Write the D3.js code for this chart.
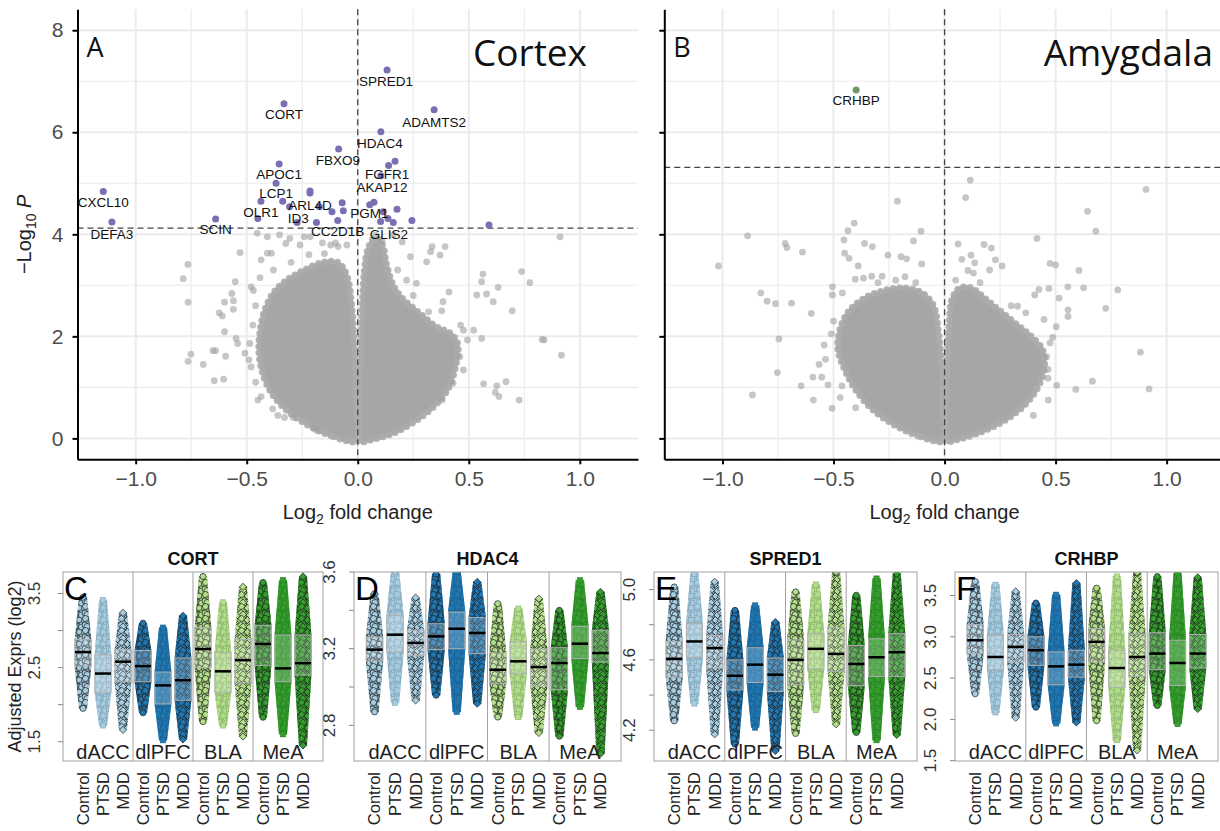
<!DOCTYPE html>
<html>
<head>
<meta charset="utf-8">
<script src="https://cdn.jsdelivr.net/npm/d3@7"></script>
<style>
  body { margin: 0; background: #fff; }
  svg { display: block; }
</style>
</head>
<body>
<div id="fig"></div>
<script>
// ---------- volcano data: [log2 fold change, -log10 P] ----------
// outline of the dense grey cloud (two lobes each side of zero)
const cortexLobeLeft = [[0,-0.05],[-0.12,0.05],[-0.22,0.25],[-0.32,0.55],[-0.39,0.9],[-0.43,1.3],[-0.445,1.7],[-0.44,2.1],[-0.42,2.5],[-0.38,2.85],[-0.32,3.1],[-0.24,3.3],[-0.16,3.45],[-0.09,3.45],[-0.05,3.2],[-0.025,2.5],[-0.012,1.5],[-0.004,0.5]];
const cortexLobeRight = [[0.004,0.3],[0.012,1.5],[0.02,2.6],[0.03,3.3],[0.045,3.7],[0.075,3.92],[0.11,3.8],[0.13,3.4],[0.16,3.0],[0.2,2.75],[0.28,2.45],[0.35,2.2],[0.42,2.05],[0.45,1.85],[0.44,1.4],[0.41,1.0],[0.36,0.7],[0.28,0.4],[0.17,0.12],[0.06,-0.03],[0.005,-0.06]];
const amygLobeLeft = [[0,-0.05],[-0.12,0.05],[-0.22,0.25],[-0.32,0.55],[-0.4,0.95],[-0.45,1.35],[-0.48,1.75],[-0.47,2.15],[-0.43,2.5],[-0.36,2.75],[-0.27,2.9],[-0.18,2.95],[-0.1,2.85],[-0.05,2.6],[-0.025,2.0],[-0.01,1.2],[-0.003,0.4]];
const amygLobeRight = [[0.003,0.4],[0.01,1.3],[0.02,2.2],[0.035,2.75],[0.07,2.95],[0.12,2.95],[0.18,2.75],[0.25,2.5],[0.32,2.25],[0.39,2.0],[0.44,1.75],[0.45,1.4],[0.42,1.0],[0.36,0.65],[0.27,0.35],[0.15,0.1],[0.05,-0.03],[0.005,-0.06]];

// scattered grey genes outside the dense cloud
const cortexGrey = [[-0.765,3.41],[-0.786,3.13],[-0.764,2.67],[-0.751,1.65],[-0.764,1.51],[-0.696,1.45],[-0.646,1.13],[-0.604,1.16],[-0.652,1.72],[-0.64,1.72],[-0.595,1.61],[-0.548,1.96],[-0.541,1.86],[-0.6,2.09],[-0.624,2.46],[-0.61,2.4],[-0.6,2.67],[-0.56,2.7],[-0.56,2.53],[-0.567,2.84],[-0.552,3.07],[-0.53,3.64],[-0.48,2.97],[-0.435,3.5],[-0.407,3.63],[-0.389,3.63],[-0.453,4.02],[-0.407,3.95],[-0.352,3.99],[-0.472,2.22],[-0.486,1.86],[-0.508,1.67],[-0.49,1.54],[-0.48,1.4],[-0.435,0.82],[-0.383,0.58],[-0.33,0.41],[-0.291,0.41],[-0.196,0.2],[-0.186,0.16],[-0.324,3.82],[-0.306,3.92],[-0.26,3.79],[-0.241,3.95],[-0.214,3.95],[-0.159,3.83],[-0.122,3.79],[-0.089,3.76],[-0.049,3.79],[-0.1,3.83],[-0.46,2.6],[-0.47,2.9],[-0.44,3.15],[-0.38,3.3],[-0.3,3.45],[-0.22,3.6],[-0.15,3.62],[-0.46,1.1],[-0.45,0.75],[-0.36,0.45],[0.08,3.98],[0.1,3.9],[0.11,3.86],[0.16,3.99],[0.2,3.85],[0.237,3.56],[0.264,3.04],[0.31,3.46],[0.328,3.66],[0.371,3.59],[0.393,3.76],[0.335,3.76],[0.411,2.87],[0.384,2.68],[0.378,2.5],[0.319,2.48],[0.22,3.1],[0.18,3.3],[0.25,2.8],[0.463,2.22],[0.476,2.12],[0.494,1.93],[0.522,2.12],[0.558,1.96],[0.476,1.34],[0.429,1.08],[0.46,1.6],[0.38,0.75],[0.536,2.81],[0.558,3.07],[0.564,3.22],[0.58,2.83],[0.61,2.68],[0.632,2.96],[0.696,2.5],[0.738,3.27],[0.775,3.05],[0.567,1.07],[0.626,1.03],[0.668,1.11],[0.619,0.9],[0.636,0.82],[0.727,0.75],[0.83,1.94],[0.839,1.93],[0.917,1.63],[0.911,3.95]];
const amygGrey = [[0.116,5.06],[0.095,4.72],[-0.212,4.65],[0.907,4.88],[0.644,4.45],[0.681,4.06],[-0.887,3.97],[-0.407,4.22],[-0.435,4.07],[-0.106,4.06],[-0.14,3.87],[-0.453,3.89],[-0.36,3.82],[-0.325,3.76],[-0.718,3.82],[-0.71,3.74],[-0.64,3.65],[0.061,3.81],[0.178,3.8],[0.211,3.73],[0.416,3.92],[-1.018,3.38],[-0.827,2.85],[-0.799,2.69],[-0.761,2.64],[-0.689,2.65],[-0.746,1.95],[-0.753,1.29],[-0.865,0.85],[-0.646,1.03],[-0.591,0.75],[-0.507,0.59],[-0.6,2.45],[-0.593,1.2],[-0.553,1.2],[-0.565,1.45],[-0.536,1.55],[-0.542,1.83],[-0.525,1.05],[-0.462,1.03],[-0.45,3.63],[-0.43,3.53],[-0.389,3.38],[-0.328,3.18],[-0.281,3.18],[-0.255,3.59],[-0.196,3.56],[-0.171,3.52],[-0.178,3.17],[-0.103,3.42],[-0.505,2.97],[-0.505,2.81],[-0.46,2.85],[-0.402,3.12],[-0.365,3.14],[-0.3,3.05],[-0.22,3.1],[-0.13,3.05],[-0.5,2.3],[-0.51,2.05],[-0.47,0.8],[-0.4,0.6],[0.078,3.51],[0.119,3.59],[0.136,3.44],[0.105,3.29],[0.13,3.24],[0.203,3.3],[0.229,3.5],[0.259,3.38],[0.05,3.1],[0.16,3.05],[0.3,2.6],[0.475,3.43],[0.5,3.4],[0.605,3.29],[0.555,2.97],[0.626,2.95],[0.78,2.91],[0.726,2.55],[0.406,2.81],[0.425,2.92],[0.47,2.94],[0.516,2.75],[0.556,2.52],[0.556,2.39],[0.448,2.33],[0.503,2.19],[0.882,1.69],[0.921,0.97],[0.666,1.12],[0.591,0.96],[0.505,1.04],[0.467,0.75],[0.4,0.45],[0.466,1.18],[0.466,1.35],[0.46,1.6],[0.487,1.98],[0.475,1.87],[0.366,2.46],[0.329,2.59]];

// significant genes: [gene, lfc, -log10 P, label lfc, label -log10 P]
const cortexHits = [["SPRED1",0.132,7.22,0.127,7.0],["CORT",-0.332,6.56,-0.332,6.36],["ADAMTS2",0.344,6.44,0.344,6.2],["HDAC4",0.104,6.01,0.1,5.79],["FBXO9",-0.086,5.67,-0.089,5.46],["APOC1",-0.354,5.38,-0.354,5.18],["FGFR1",0.139,5.35,0.132,5.18],["AKAP12",0.104,5.15,0.109,4.92],["LCP1",-0.368,5.0,-0.368,4.8],["CXCL10",-1.146,4.84,-1.146,4.63],["ARL4D",-0.215,4.85,-0.215,4.58],["OLR1",-0.436,4.65,-0.436,4.44],["ID3",-0.307,4.54,-0.268,4.31],["PGM1",0.054,4.58,0.052,4.41],["CC2D1B",-0.09,4.27,-0.09,4.07],["GLIS2",0.136,4.31,0.14,4.0],["DEFA3",-1.107,4.24,-1.107,4.0],["SCIN",-0.64,4.30,-0.64,4.1]];
const cortexHitsUnlabelled = [[0.168,5.43],[-0.215,4.81],[-0.45,4.31],[-0.338,4.65],[-0.273,4.23],[-0.173,4.54],[-0.116,4.44],[-0.07,4.62],[-0.065,4.46],[-0.186,4.23],[0.073,4.63],[0.115,4.44],[0.177,4.49],[0.103,4.25],[0.16,4.23],[0.244,4.27],[0.591,4.18]];
const amygHits = [["CRHBP",-0.398,6.83,-0.398,6.62]];

const cortexThreshold = 4.12;
const amygThreshold = 5.31;

const xMajor = [-1, -0.5, 0, 0.5, 1];
const xMinor = [-0.75, -0.25, 0.25, 0.75];
const yMajor = [0, 2, 4, 6, 8];
const yMinor = [1, 3, 5, 7];

// ---------- strip / box data: per group [lowest, Q1, median, Q3, highest] ----------
const regions = ["dACC", "dlPFC", "BLA", "MeA"];
const diagnoses = ["Control", "PTSD", "MDD"];
const regionColors = ["#a6cee3", "#1f78b4", "#b2df8a", "#33a02c"];

const cortStats = [[1.95,2.52,2.71,2.88,3.45],[1.72,2.17,2.42,2.67,3.41],[1.66,2.31,2.58,2.74,3.24],[1.89,2.31,2.52,2.73,3.10],[1.52,2.01,2.26,2.44,3.04],[1.53,2.06,2.33,2.63,3.20],[1.77,2.50,2.75,3.04,3.73],[1.72,2.17,2.45,2.70,3.38],[1.57,2.29,2.60,2.88,3.59],[1.83,2.53,2.82,3.07,3.65],[1.60,2.31,2.49,2.94,3.68],[1.45,2.40,2.56,2.94,3.73]];
const hdac4Stats = [[2.87,3.136,3.195,3.261,3.487],[2.918,3.183,3.273,3.374,3.60],[2.93,3.165,3.23,3.296,3.466],[2.957,3.195,3.264,3.33,3.59],[2.87,3.20,3.304,3.391,3.60],[2.913,3.174,3.282,3.362,3.548],[2.843,3.017,3.09,3.177,3.435],[2.843,3.07,3.134,3.235,3.409],[2.76,3.005,3.104,3.198,3.461],[2.743,2.986,3.125,3.205,3.40],[2.896,3.148,3.226,3.317,3.557],[2.652,3.13,3.177,3.296,3.496]];
const spred1Stats = [[4.253,4.501,4.606,4.705,5.015],[4.352,4.615,4.705,4.806,5.09],[4.177,4.554,4.667,4.739,5.044],[4.12,4.429,4.51,4.60,4.882],[4.215,4.472,4.573,4.669,4.91],[4.082,4.421,4.516,4.611,4.815],[4.181,4.459,4.60,4.714,4.987],[4.314,4.549,4.663,4.749,5.029],[4.234,4.535,4.634,4.783,5.10],[4.187,4.453,4.577,4.682,4.968],[4.143,4.505,4.615,4.72,5.063],[4.173,4.505,4.644,4.749,5.09]];
const crhbpStats = [[2.31,2.797,2.959,3.15,3.67],[2.085,2.602,2.756,3.02,3.63],[2.02,2.695,2.878,3.028,3.55],[2.146,2.654,2.837,3.0,3.41],[1.951,2.419,2.642,2.817,3.51],[1.963,2.512,2.663,2.837,3.65],[1.984,2.695,2.939,3.102,3.59],[1.748,2.39,2.622,2.837,3.73],[1.626,2.52,2.756,3.033,3.78],[2.167,2.602,2.797,3.049,3.73],[1.943,2.411,2.683,2.959,3.77],[2.126,2.622,2.797,3.028,3.72]];

const stripPanels = [
  { gene: "CORT",   letter: "C", stats: cortStats,   domain: [1.24, 3.79],  ticks: [1.5, 2, 2.5, 3, 3.5],     labelled: [1.5, 2.5, 3.5],       left: 63,  right: 323 },
  { gene: "HDAC4",  letter: "D", stats: hdac4Stats,  domain: [2.614, 3.6],  ticks: [2.8, 3.0, 3.2, 3.4, 3.6], labelled: [2.8, 3.2, 3.6],       left: 354, right: 621 },
  { gene: "SPRED1", letter: "E", stats: spred1Stats, domain: [4.025, 5.10], ticks: [4.2, 4.4, 4.6, 4.8, 5.0], labelled: [4.2, 4.6, 5.0],       left: 654, right: 917 },
  { gene: "CRHBP",  letter: "F", stats: crhbpStats,  domain: [1.496, 3.785],ticks: [1.5, 2, 2.5, 3, 3.5],     labelled: [1.5, 2, 2.5, 3, 3.5], left: 955, right: 1218 }
];

// ---------- drawing ----------
const W = 1220, H = 831;
const svg = d3.select("#fig").append("svg").attr("width", W).attr("height", H);
const defs = svg.append("defs");
const sans = "'Liberation Sans', Arial, sans-serif";

function drawVolcano(left, cfg) {
  const x = d3.scaleLinear().domain([-1.262, 1.262]).range([left, left + 560.5]);
  const y = d3.scaleLinear().domain([-0.41, 8.41]).range([459.3, 9.3]);
  const g = svg.append("g");
  const [x0, x1] = x.range(), [yb, yt] = y.range();

  // grid
  g.selectAll(".xmin").data(xMinor).join("line")
    .attr("x1", d => x(d)).attr("x2", d => x(d)).attr("y1", yt).attr("y2", yb)
    .attr("stroke", "#ebebeb").attr("stroke-width", 1.1);
  g.selectAll(".ymin").data(yMinor).join("line")
    .attr("x1", x0).attr("x2", x1).attr("y1", d => y(d)).attr("y2", d => y(d))
    .attr("stroke", "#ebebeb").attr("stroke-width", 1.1);
  g.selectAll(".xmaj").data(xMajor).join("line")
    .attr("x1", d => x(d)).attr("x2", d => x(d)).attr("y1", yt).attr("y2", yb)
    .attr("stroke", "#ebebeb").attr("stroke-width", 2);
  g.selectAll(".ymaj").data(yMajor).join("line")
    .attr("x1", x0).attr("x2", x1).attr("y1", d => y(d)).attr("y2", d => y(d))
    .attr("stroke", "#ebebeb").attr("stroke-width", 2);

  // dense cloud: solid fill plus a beaded edge so the rim reads as points
  const line = d3.line().x(d => x(d[0])).y(d => y(d[1])).curve(d3.curveCatmullRomClosed);
  g.selectAll(".lobe").data(cfg.lobes).join("path")
    .attr("d", line)
    .attr("fill", "#a6a6a6").attr("stroke", "#a6a6a6")
    .attr("stroke-width", 3).attr("stroke-linejoin", "round");
  g.selectAll(".rim").data(cfg.lobes).join("path")
    .attr("d", line)
    .attr("fill", "none").attr("stroke", "#acacac").attr("stroke-opacity", 0.9)
    .attr("stroke-width", 7).attr("stroke-linecap", "round").attr("stroke-dasharray", "0,6.5");

  g.selectAll(".grey").data(cfg.grey).join("circle")
    .attr("cx", d => x(d[0])).attr("cy", d => y(d[1])).attr("r", 3.4)
    .attr("fill", "#a0a0a0").attr("opacity", 0.6);

  // threshold lines
  g.append("line").attr("x1", x(0)).attr("x2", x(0)).attr("y1", yt).attr("y2", yb)
    .attr("stroke", "#444").attr("stroke-width", 1.3).attr("stroke-dasharray", "6,4");
  g.append("line").attr("x1", x0).attr("x2", x1).attr("y1", y(cfg.threshold)).attr("y2", y(cfg.threshold))
    .attr("stroke", "#444").attr("stroke-width", 1.3).attr("stroke-dasharray", "6,4");

  // significant genes
  g.selectAll(".hit2").data(cfg.extraHits).join("circle")
    .attr("cx", d => x(d[0])).attr("cy", d => y(d[1])).attr("r", 3.5)
    .attr("fill", cfg.hitColor);
  g.selectAll(".hit").data(cfg.hits).join("circle")
    .attr("cx", d => x(d[1])).attr("cy", d => y(d[2])).attr("r", 3.5)
    .attr("fill", cfg.hitColor);
  g.selectAll(".lab").data(cfg.hits).join("text")
    .attr("x", d => x(d[3])).attr("y", d => y(d[4])).attr("dy", "0.36em")
    .attr("text-anchor", "middle").attr("font-family", sans).attr("font-size", 13.5)
    .attr("fill", "#111").text(d => d[0]);

  // axes
  const ax = g.append("g").attr("transform", `translate(0,${yb})`)
    .call(d3.axisBottom(x).tickValues(xMajor).tickFormat(d3.format(".1f"))
      .tickSize(5).tickPadding(7).tickSizeOuter(0));
  const ay = g.append("g").attr("transform", `translate(${x0},0)`)
    .call(d3.axisLeft(y).tickValues(yMajor).tickFormat(cfg.yLabels ? d3.format("d") : "")
      .tickSize(5).tickPadding(9).tickSizeOuter(0));
  [ax, ay].forEach(a => {
    a.select(".domain").attr("stroke", "#000").attr("stroke-width", 2);
    a.selectAll(".tick line").attr("stroke", "#000").attr("stroke-width", 2);
    a.selectAll("text").attr("font-family", sans).attr("font-size", 21).attr("fill", "#4d4d4d");
  });

  // x title
  const xt = g.append("text").attr("x", x(0)).attr("y", 519).attr("text-anchor", "middle")
    .attr("font-family", sans).attr("font-size", 20).attr("fill", "#222");
  xt.append("tspan").text("Log");
  xt.append("tspan").attr("font-size", 14).attr("dy", 5).text("2");
  xt.append("tspan").attr("dy", -5).text(" fold change");

  if (cfg.yLabels) {
    const yt2 = g.append("text").attr("transform", `translate(31,${(yt + yb) / 2}) rotate(-90)`)
      .attr("text-anchor", "middle").attr("font-family", sans).attr("font-size", 20).attr("fill", "#222");
    yt2.append("tspan").text("\u2212Log");
    yt2.append("tspan").attr("font-size", 14).attr("dy", 5).text("10");
    yt2.append("tspan").attr("dy", -5).text(" ");
    yt2.append("tspan").attr("font-style", "italic").text("P");
  }

  g.append("text").attr("x", x0 + 9).attr("y", 57).attr("font-family", "'Open Sans', sans-serif")
    .attr("font-size", 27).attr("fill", "#111").text(cfg.letter);
  g.append("text").attr("x", cfg.titleEnd).attr("y", 66).attr("text-anchor", "end")
    .attr("font-family", "'Open Sans', sans-serif").attr("font-size", 37).attr("fill", "#111").text(cfg.title);
}

drawVolcano(77.5, {
  lobes: [cortexLobeLeft, cortexLobeRight], grey: cortexGrey, threshold: cortexThreshold,
  hits: cortexHits, extraHits: cortexHitsUnlabelled, hitColor: "#7a6fb2",
  yLabels: true, letter: "A", title: "Cortex", titleEnd: 587
});
drawVolcano(664.3, {
  lobes: [amygLobeLeft, amygLobeRight], grey: amygGrey, threshold: amygThreshold,
  hits: amygHits, extraHits: [], hitColor: "#6f9a63",
  yLabels: false, letter: "B", title: "Amygdala", titleEnd: 1213
});

// ---------- marker texture for the dense strips ----------
function addMarker(sel, shape, cx, cy, fill) {
  if (shape === 0) {
    sel.append("circle").attr("cx", cx).attr("cy", cy).attr("r", 3)
      .attr("fill", fill).attr("stroke", "#1c1c1c").attr("stroke-width", 0.7);
  } else if (shape === 1) {
    sel.append("rect").attr("x", cx - 2.6).attr("y", cy - 2.6).attr("width", 5.2).attr("height", 5.2)
      .attr("fill", fill).attr("stroke", d3.color(fill).darker(0.7)).attr("stroke-width", 0.6);
  } else {
    sel.append("path").attr("d", `M${cx},${cy - 3.6}L${cx + 3.6},${cy}L${cx},${cy + 3.6}L${cx - 3.6},${cy}Z`)
      .attr("fill", fill).attr("stroke", "#1c1c1c").attr("stroke-width", 0.7);
  }
}
const tile = 12;
const tileSpots = [[1, 1], [6, 2.5], [10, 0.5], [3.5, 5], [8.5, 6], [0.5, 8.5], [5, 9.5], [10, 10.5],
  [11.5, 4], [2.5, 11.5], [7.5, 8], [3, 2.5], [9.5, 3], [1.5, 6.5]];
regionColors.forEach((c, r) => {
  diagnoses.forEach((dg, k) => {
    const p = defs.append("pattern").attr("id", `pat-${r}-${k}`)
      .attr("patternUnits", "userSpaceOnUse").attr("width", tile).attr("height", tile);
    [-tile, 0, tile].forEach(ox => [-tile, 0, tile].forEach(oy =>
      tileSpots.forEach(([px, py]) => addMarker(p, k, px + ox, py + oy, c))));
  });
});

const frameTop = 572, frameBottom = 761;

stripPanels.forEach((pn, pi) => {
  const x = d3.scaleLinear().domain([0, 13]).range([pn.left, pn.right]);
  const y = d3.scaleLinear().domain(pn.domain).range([frameBottom, frameTop]);
  const g = svg.append("g");

  defs.append("clipPath").attr("id", `clip-${pi}`).append("rect")
    .attr("x", pn.left).attr("y", frameTop).attr("width", pn.right - pn.left).attr("height", frameBottom - frameTop);
  const inner = g.append("g").attr("clip-path", `url(#clip-${pi})`);

  const rows = pn.stats.map((s, i) => ({ s, i, r: Math.floor(i / 3), k: i % 3, cx: i + 1 }));

  // whiskers
  rows.forEach(d => {
    const [lo, q1, md, q3, hi] = d.s;
    inner.append("line").attr("x1", x(d.cx)).attr("x2", x(d.cx)).attr("y1", y(hi)).attr("y2", y(lo))
      .attr("stroke", "#aaa").attr("stroke-width", 1).attr("stroke-dasharray", "2,2");
    [lo, hi].forEach(v => inner.append("line")
      .attr("x1", x(d.cx - 0.2)).attr("x2", x(d.cx + 0.2)).attr("y1", y(v)).attr("y2", y(v))
      .attr("stroke", "#aaa").attr("stroke-width", 1));
  });

  // jittered strip of points, drawn as a textured column
  const halfW = [0.2, 0.42, 0.42, 0.42, 0.2];
  rows.forEach(d => {
    const prof = d.s.map((v, j) => [v, halfW[j]]);
    const area = d3.area()
      .y(p => y(p[0])).x0(p => x(d.cx - p[1])).x1(p => x(d.cx + p[1]));
    inner.append("path").attr("d", area(prof)).attr("fill", regionColors[d.r]).attr("fill-opacity", 0.6);
    inner.append("path").attr("d", area(prof)).attr("fill", `url(#pat-${d.r}-${d.k})`);
    const ends = inner.append("g");
    addMarker(ends, d.k, x(d.cx), y(d.s[0]), regionColors[d.r]);
    addMarker(ends, d.k, x(d.cx), y(d.s[4]), regionColors[d.r]);
  });

  // boxes and medians
  rows.forEach(d => {
    const [lo, q1, md, q3, hi] = d.s;
    inner.append("rect").attr("x", x(d.cx - 0.4)).attr("width", x(0.8) - x(0))
      .attr("y", y(q3)).attr("height", y(q1) - y(q3))
      .attr("fill", "#fff").attr("fill-opacity", 0.2).attr("stroke", "#b0b0b0").attr("stroke-width", 1);
    inner.append("line").attr("x1", x(d.cx - 0.4)).attr("x2", x(d.cx + 0.4)).attr("y1", y(md)).attr("y2", y(md))
      .attr("stroke", "#000").attr("stroke-width", 2.5);
  });

  // region dividers and frame
  [3.5, 6.5, 9.5].forEach(v => g.append("line").attr("x1", x(v)).attr("x2", x(v))
    .attr("y1", frameTop).attr("y2", frameBottom).attr("stroke", "#a0a0a0").attr("stroke-width", 1));
  g.append("rect").attr("x", pn.left).attr("y", frameTop).attr("width", pn.right - pn.left)
    .attr("height", frameBottom - frameTop).attr("fill", "none").attr("stroke", "#a0a0a0").attr("stroke-width", 1);

  // region names
  regions.forEach((rn, r) => g.append("text").attr("x", x(3 * r + 2)).attr("y", 759)
    .attr("text-anchor", "middle").attr("font-family", sans).attr("font-size", 20).attr("fill", "#222").text(rn));

  // y ticks
  pn.ticks.forEach(v => g.append("line").attr("x1", pn.left - 5).attr("x2", pn.left)
    .attr("y1", y(v)).attr("y2", y(v)).attr("stroke", "#888").attr("stroke-width", 1));
  const fmt = d3.format(".1f");
  pn.labelled.forEach(v => g.append("text")
    .attr("transform", `translate(${pn.left - (pi === 0 ? 23 : 19)},${y(v)}) rotate(-90)`)
    .attr("text-anchor", "middle").attr("font-family", sans).attr("font-size", 17).attr("fill", "#333")
    .text(fmt(v)));

  // x labels
  rows.forEach(d => g.append("text")
    .attr("transform", `translate(${x(d.cx)},772) rotate(-90)`).attr("dy", "0.36em")
    .attr("text-anchor", "end").attr("font-family", sans).attr("font-size", 16.5).attr("fill", "#222")
    .text(diagnoses[d.k]));

  // title and letter
  g.append("text").attr("x", (pn.left + pn.right) / 2).attr("y", 565).attr("text-anchor", "middle")
    .attr("font-family", sans).attr("font-weight", "bold").attr("font-size", 18).attr("fill", "#111").text(pn.gene);
  g.append("text").attr("x", pn.left + 1).attr("y", 600).attr("font-family", sans)
    .attr("font-size", 33).attr("fill", "#000").text(pn.letter);

  if (pi === 0) {
    g.append("text").attr("transform", `translate(21,${(frameTop + frameBottom) / 2}) rotate(-90)`)
      .attr("text-anchor", "middle").attr("font-family", sans).attr("font-size", 18).attr("fill", "#222")
      .text("Adjusted Exprs (log2)");
  }
});
</script>
</body>
</html>
